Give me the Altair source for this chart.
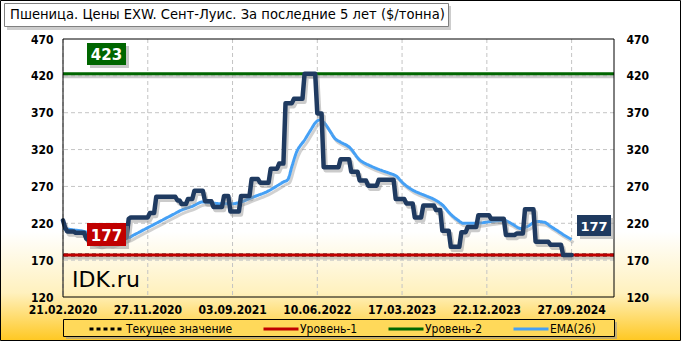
import datetime as dt
import altair as alt
import pandas as pd

# ---------------- data ----------------
START = "2020-02-21"          # first weekly observation
DOMAIN_END = "2025-02-14"     # right edge of the time axis

# weekly EXW St. Louis wheat price, $/t (one value per week)
prices = [
    224,
    214,
    209, 209, 209, 209,
    207, 207, 207, 207, 207,
    199, 197, 196, 195, 194, 193, 192, 192, 193, 194, 194, 193, 193, 194, 195, 196, 197, 198, 199,
    201,
    226,
    228, 228, 228, 228, 228, 228, 228, 228, 228,
    234, 234, 234,
    256, 256, 256, 256, 256, 256, 256, 256, 256, 256,
    251, 251,
    246, 246, 246,
    253, 253, 253,
    264, 264, 264, 264, 264,
    250, 250, 250, 250,
    242, 242, 242, 242, 242,
    257, 257, 257,
    236, 236, 236, 236, 236,
    257, 257, 257, 257, 257,
    280, 280, 280, 280,
    275, 275, 275, 275, 275,
    294, 294, 294, 294,
    301, 301, 301,
    383, 383, 383, 383,
    389, 389, 389, 389, 389,
    423, 423, 423, 423, 423, 423,
    369, 369, 369,
    296, 296, 296, 296, 296, 296, 296, 296,
    307, 307, 307, 307, 307,
    290, 290, 290, 290,
    278, 278, 278, 278,
    271, 271, 271, 271, 271,
    279, 279, 279, 279, 279, 279, 279, 279,
    253, 253, 253, 253, 253,
    247, 247, 247, 247,
    228, 228, 228, 228,
    244, 244, 244, 244, 244, 244,
    238, 238, 238,
    210, 210, 210, 210,
    188, 188, 188, 188, 188,
    208, 208, 208,
    215, 215, 215, 215, 215,
    231, 231, 231, 231, 231, 231,
    226, 226, 226, 226, 226, 226, 226,
    204, 204, 204, 204, 204,
    206, 206, 206, 206,
    239, 239, 239, 239, 239,
    195, 195, 195, 195, 195, 195, 195,
    191, 191, 191, 191, 191, 191,
    177, 177, 177, 177, 177,
]

# EMA(26) (week index, value)
ema_weeks = [0, 5, 9, 15, 22, 27, 30, 34, 38, 42, 46, 52, 56, 61, 66, 70, 74, 80, 84, 88,
             92, 96, 100, 104, 106, 108, 110, 114, 117, 119, 121, 123, 126, 128, 131, 135,
             140, 145, 150, 154, 157, 161, 165, 168, 171, 176, 179, 183, 186, 189, 195,
             201, 208, 212, 216, 220, 223, 227, 230, 233, 237, 240]
ema_values = [213, 211, 209.5, 205, 201, 199, 199.5, 205, 211, 217, 223, 232, 238, 243, 249,
              248, 246.5, 246.5, 249, 253.5, 258, 262.5, 269, 276, 279, 297, 315, 333, 347,
              356, 360, 357, 345, 336, 330, 323.5, 306, 298, 292, 288, 284.5, 273, 265, 261,
              257.5, 251, 245, 232, 225, 220, 220, 222, 224, 219, 213, 217, 222.5, 221.5,
              216, 210.5, 203, 198]

x_tick_labels = ["21.02.2020", "27.11.2020", "03.09.2021", "10.06.2022",
                 "17.03.2023", "22.12.2023", "27.09.2024"]
y_ticks = [120, 170, 220, 270, 320, 370, 420, 470]
y_grid = [170, 220, 270, 320, 370, 420]

level_names = ["Текущее значение", "Уровень-1", "Уровень-2"]
level_values = [177, 177, 423]
ema_name = "EMA(26)"
legend_names = level_names + [ema_name]
legend_colors = ["#000000", "#C00000", "#006600", "#45A0F5"]
legend_dashes = [[4, 3], [1, 0], [1, 0], [1, 0]]

title_text = "Пшеница.  Цены EXW.  Сент-Луис.  За последние 5 лет ($/тонна)"
brand_text = "IDK.ru"

# ---------------- tables ----------------
start = dt.date.fromisoformat(START)
def week_date(w):
    return (start + dt.timedelta(days=7 * w)).isoformat()

def to_ms(iso):
    d = dt.datetime.fromisoformat(iso).replace(tzinfo=dt.timezone.utc)
    return int(d.timestamp() * 1000)

price_df = pd.DataFrame({"date": [week_date(i) for i in range(len(prices))], "value": prices})
ema_df = pd.DataFrame({"date": [week_date(w) for w in ema_weeks], "value": ema_values})
levels_df = pd.DataFrame({"series": level_names, "value": level_values})
tick_iso = [dt.datetime.strptime(s, "%d.%m.%Y").date().isoformat() for s in x_tick_labels]
xgrid_df = pd.DataFrame({"date": tick_iso, "label": x_tick_labels})
ygrid_df = pd.DataFrame({"value": y_grid})
one = pd.DataFrame({"k": [0]})

x_scale = alt.Scale(type="utc", domain=[to_ms(START), to_ms(DOMAIN_END)])
y_scale = alt.Scale(domain=[120, 470], nice=False, zero=False)

FONT = "DejaVu Sans Condensed, DejaVu Sans, sans-serif"
W, H = 551, 258
PAD_L, PAD_T = 63, 39
TOTAL_W, TOTAL_H = 681, 341

# ---------------- layers ----------------
gradient = {
    "gradient": "linear", "x1": 0, "y1": 0, "x2": 0, "y2": 1,
    "stops": [
        {"offset": 0.0, "color": "#FFFFFF"},
        {"offset": 0.68, "color": "#FFFFFF"},
        {"offset": 0.86, "color": "#FFF1BE"},
        {"offset": 1.0, "color": "#FFC822"},
    ],
}
background = alt.Chart(one).mark_rect(fill=gradient, stroke="#000000", strokeWidth=1).encode(
    x=alt.value(-PAD_L + 0.5), x2=alt.value(TOTAL_W - PAD_L - 0.5),
    y=alt.value(-PAD_T + 0.5), y2=alt.value(TOTAL_H - PAD_T - 0.5),
)

title_shadow = alt.Chart(one).mark_rect(color="#B8B8B8", opacity=0.7).encode(
    x=alt.value(-56), x2=alt.value(388), y=alt.value(-33), y2=alt.value(-9))
title_box = alt.Chart(one).mark_rect(fill="#FFFFFF", stroke="#808080", strokeWidth=1).encode(
    x=alt.value(-58.5), x2=alt.value(385.5), y=alt.value(-35.5), y2=alt.value(-12.5))
title = alt.Chart(one).mark_text(align="left", baseline="middle", font=FONT, fontSize=14.6,
                                 color="#000000").encode(
    x=alt.value(-53), y=alt.value(-24), text=alt.value(title_text))

grid_x = alt.Chart(xgrid_df).mark_rule(color="#C4C4C4", strokeDash=[4, 3], strokeWidth=1).encode(
    x=alt.X("date:T", scale=x_scale, axis=None))
grid_y = alt.Chart(ygrid_df).mark_rule(color="#C4C4C4", strokeDash=[4, 3], strokeWidth=1).encode(
    y=alt.Y("value:Q", scale=y_scale, axis=None))

# date labels under the plot, placed through the x scale
x_labels = alt.Chart(xgrid_df).mark_text(align="center", baseline="middle", font=FONT,
                                         fontSize=12, fontWeight="bold", color="#000000").encode(
    x=alt.X("date:T", scale=x_scale, axis=None),
    y=alt.value(H + 13),
    text=alt.Text("label:N"),
)

level_shadow = alt.Chart(levels_df).transform_filter(
    alt.datum.series != level_names[0]).mark_rule(color="#A8A8A8", strokeWidth=3, opacity=0.6, yOffset=3).encode(
    y=alt.Y("value:Q", scale=y_scale, axis=None))

legend = alt.Legend(
    title=None, orient="none", legendX=25, legendY=271, direction="horizontal",
    symbolType="stroke", symbolSize=1225, symbolStrokeWidth=3, labelFont=FONT,
    labelFontSize=12, labelColor="#000000", columnPadding=24, labelOffset=0, padding=0,
    zindex=1, labelLimit=300,
)
levels = alt.Chart(levels_df).mark_rule(strokeWidth=3).encode(
    y=alt.Y("value:Q", scale=y_scale, axis=None),
    color=alt.Color("series:N", scale=alt.Scale(domain=legend_names, range=legend_colors), legend=legend),
    strokeDash=alt.StrokeDash("series:N", scale=alt.Scale(domain=legend_names, range=legend_dashes), legend=legend),
    strokeWidth=alt.condition(alt.datum.series == level_names[0], alt.value(1.5), alt.value(3)),
)

axis_common = dict(title=None, zindex=1, grid=False, ticks=False, domain=False,
                   labelFont=FONT, labelFontSize=12, labelFontWeight="bold", labelColor="#000000")

ema_shadow = alt.Chart(ema_df).mark_line(color="#9A9A9A", strokeWidth=3, opacity=0.45,
                                         xOffset=2, yOffset=3, interpolate="monotone").encode(
    x=alt.X("date:T", scale=x_scale, axis=None),
    y=alt.Y("value:Q", scale=y_scale, axis=None))
ema = alt.Chart(ema_df).mark_line(strokeWidth=3, interpolate="monotone").encode(
    x=alt.X("date:T", scale=x_scale, axis=None),
    y=alt.Y("value:Q", scale=y_scale,
            axis=alt.Axis(orient="right", values=y_ticks, labelPadding=12, **axis_common)),
    color=alt.datum(ema_name),
    strokeDash=alt.datum(ema_name),
)

price_shadow = alt.Chart(price_df).mark_line(color="#8C8C8C", strokeWidth=4.5, opacity=0.45,
                                             xOffset=2, yOffset=3, strokeJoin="round").encode(
    x=alt.X("date:T", scale=x_scale, axis=None),
    y=alt.Y("value:Q", scale=y_scale, axis=None))
price = alt.Chart(price_df).mark_line(color="#1F3A60", strokeWidth=4.5, strokeJoin="round",
                                      strokeCap="round").encode(
    x=alt.X("date:T", scale=x_scale, axis=None),
    y=alt.Y("value:Q", scale=y_scale,
            axis=alt.Axis(orient="left", values=y_ticks, labelPadding=10, **axis_common)),
)

frame = alt.Chart(one).mark_rect(fillOpacity=0, stroke="#000000", strokeWidth=1).encode(
    x=alt.value(0), x2=alt.value(W), y=alt.value(0), y2=alt.value(H))

def box(x0, x1, y0, y1, fill, label, size):
    sh = alt.Chart(one).mark_rect(color="#9A9A9A", opacity=0.55).encode(
        x=alt.value(x0 + 3), x2=alt.value(x1 + 3), y=alt.value(y0 + 3), y2=alt.value(y1 + 3))
    r = alt.Chart(one).mark_rect(color=fill).encode(
        x=alt.value(x0), x2=alt.value(x1), y=alt.value(y0), y2=alt.value(y1))
    t = alt.Chart(one).mark_text(align="center", baseline="middle", font="DejaVu Sans",
                                 fontWeight="bold", fontSize=size, color="#FFFFFF").encode(
        x=alt.value((x0 + x1) / 2), y=alt.value((y0 + y1) / 2 + 1), text=alt.value(label))
    return [sh, r, t]

boxes = (box(24, 63, 4, 26, "#006600", str(level_values[2]), 15)
         + box(24, 63, 184, 207, "#C00000", str(level_values[1]), 15)
         + box(514, 548, 176, 197, "#1F3A5F", str(prices[-1]), 13))

brand = alt.Chart(one).mark_text(align="left", baseline="alphabetic", font="DejaVu Sans",
                                 fontSize=22, color="#000000").encode(
    x=alt.value(9), y=alt.value(248), text=alt.value(brand_text))

legend_shadow = alt.Chart(one).mark_rect(color="#9A9A9A", opacity=0.6).encode(
    x=alt.value(3), x2=alt.value(W + 3), y=alt.value(283), y2=alt.value(300))
legend_frame = alt.Chart(one).mark_rect(fill="#FFD95A", stroke="#000000", strokeWidth=1).encode(
    x=alt.value(0.5), x2=alt.value(W + 0.5), y=alt.value(280.5), y2=alt.value(297.5))

chart = alt.layer(
    background, title_shadow, title_box, title, legend_shadow, legend_frame,
    grid_x, grid_y, level_shadow, levels, ema_shadow, ema, price_shadow, price,
    frame, brand, x_labels, *boxes,
).properties(
    width=W, height=H,
    autosize=alt.AutoSizeParams(type="none"),
    padding={"left": PAD_L, "top": PAD_T, "right": TOTAL_W - PAD_L - W, "bottom": TOTAL_H - PAD_T - H},
).configure_view(stroke=None).configure(background="#FFFFFF")

chart.save("out.html", embed_options={"renderer": "svg", "actions": False})
